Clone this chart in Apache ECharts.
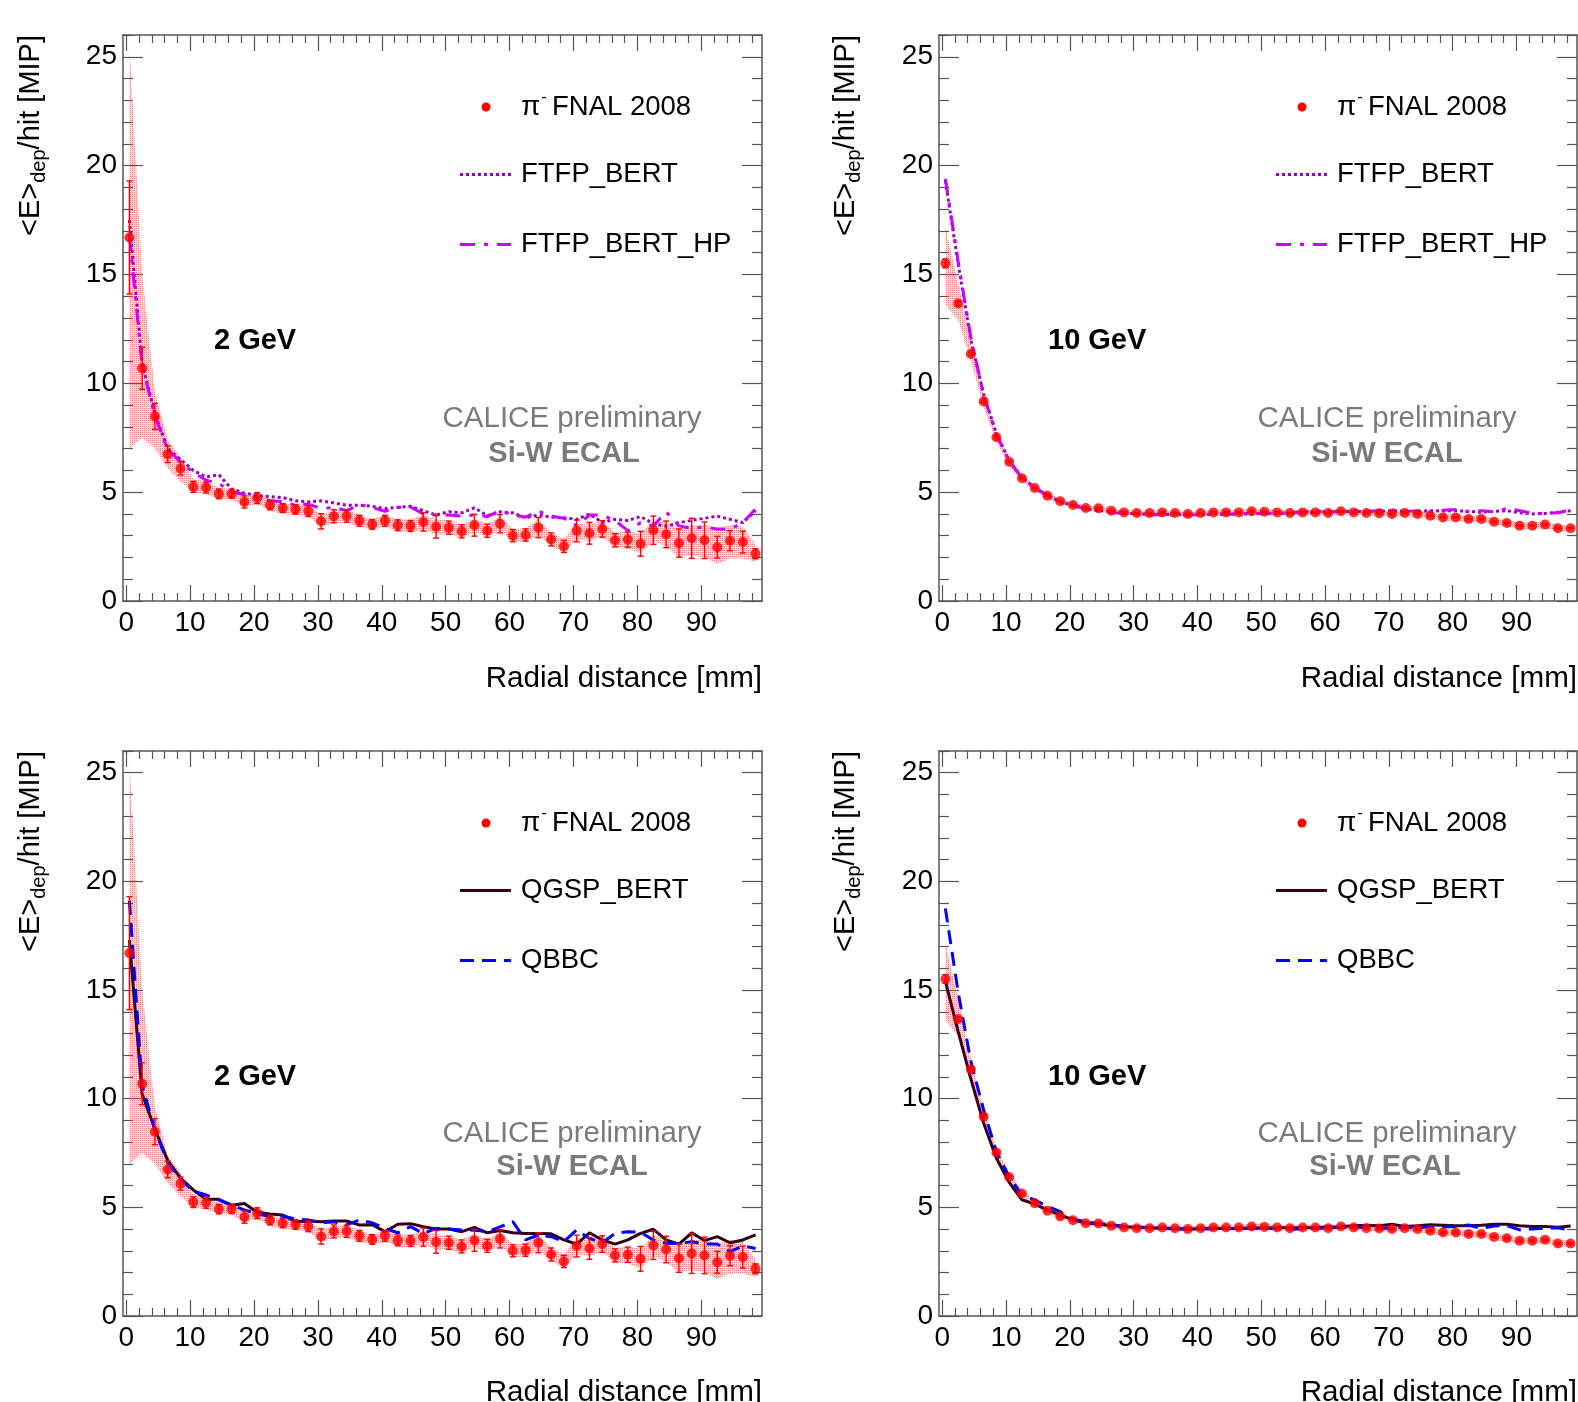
<!DOCTYPE html>
<html><head><meta charset="utf-8">
<script src="https://cdn.jsdelivr.net/npm/echarts@6/dist/echarts.min.js"></script>
<style>html,body{margin:0;padding:0;background:#fff}#c{width:1578px;height:1402px}</style>
</head><body><div id="c"></div>
<script>
// ---------- data ----------
const radius = [0.5,2.5,4.5,6.5,8.5,10.5,12.5,14.5,16.5,18.5,20.5,22.5,24.5,26.5,28.5,30.5,32.5,34.5,36.5,38.5,40.5,42.5,44.5,46.5,48.5,50.5,52.5,54.5,56.5,58.5,60.5,62.5,64.5,66.5,68.5,70.5,72.5,74.5,76.5,78.5,80.5,82.5,84.5,86.5,88.5,90.5,92.5,94.5,96.5,98.5];

const data2 = [16.7,10.69,8.48,6.74,6.09,5.24,5.21,4.92,4.93,4.55,4.73,4.41,4.27,4.21,4.13,3.66,3.89,3.90,3.69,3.52,3.69,3.48,3.45,3.63,3.41,3.37,3.20,3.48,3.23,3.55,3.00,3.03,3.37,2.83,2.51,3.22,3.11,3.31,2.79,2.82,2.63,3.25,3.06,2.66,2.88,2.79,2.47,2.77,2.71,2.17];
const err2 = [2.6,0.97,0.6,0.38,0.3,0.25,0.25,0.22,0.2,0.28,0.25,0.22,0.2,0.22,0.25,0.35,0.3,0.28,0.25,0.22,0.25,0.25,0.25,0.42,0.52,0.3,0.3,0.5,0.3,0.42,0.28,0.28,0.46,0.3,0.28,0.5,0.5,0.38,0.3,0.35,0.57,0.65,0.61,0.65,0.92,0.84,0.5,0.46,0.5,0.23];
const band2Lo = [7.0,7.5,7.0,6.1,5.5,5.0,4.9,4.7,4.65,4.35,4.45,4.15,4.0,3.95,3.9,3.4,3.6,3.6,3.4,3.3,3.4,3.2,3.15,3.3,3.05,3.05,2.9,3.15,2.95,3.25,2.7,2.75,3.0,2.55,2.2,2.85,2.75,2.95,2.45,2.4,2.2,2.75,2.5,2.0,2.1,2.0,1.7,1.95,1.95,1.8];
const band2Hi = [25.5,15.0,9.6,7.4,6.6,5.6,5.5,5.2,5.15,4.8,5.0,4.65,4.5,4.45,4.4,3.95,4.15,4.2,3.95,3.75,3.95,3.75,3.75,3.95,3.75,3.7,3.5,3.8,3.5,3.9,3.3,3.35,3.75,3.15,2.85,3.6,3.5,3.7,3.15,3.2,3.1,3.7,3.6,3.3,3.5,3.5,3.3,3.5,3.4,2.6];

const ftfp2 = [17.5,10.9,8.6,7.0,6.5,6.0,5.7,5.8,5.15,4.95,4.85,4.8,4.75,4.6,4.55,4.6,4.5,4.4,4.4,4.35,4.25,4.3,4.35,4.15,3.95,4.1,4.05,4.28,3.92,4.1,4.05,3.83,3.95,3.85,3.82,3.75,4.0,3.6,3.75,3.7,3.88,3.55,3.43,3.6,3.7,3.8,3.9,3.75,3.6,4.15];
const ftfpHp2 = [16.8,10.8,8.5,6.95,6.4,5.9,5.55,5.4,5.0,4.9,4.7,4.62,4.55,4.4,4.45,4.25,4.3,4.15,4.42,4.3,4.12,4.3,4.32,4.0,3.95,3.95,3.9,3.95,3.88,4.15,3.95,3.85,4.13,3.9,3.8,3.46,3.95,3.95,3.7,3.23,3.6,3.45,4.1,3.45,3.34,3.4,3.31,3.3,3.6,4.23];
const qgsp2 = [17.3,10.2,8.6,7.15,6.35,5.8,5.37,5.37,5.1,5.18,4.77,4.69,4.65,4.34,4.37,4.34,4.37,4.37,4.19,4.2,3.88,4.22,4.25,4.11,4.0,4.0,3.88,4.08,3.83,3.93,3.83,3.8,3.8,3.78,3.5,3.31,3.83,3.5,3.31,3.5,3.8,3.99,3.5,3.31,3.83,3.47,3.65,3.37,3.5,3.73];
const qbbc2 = [19.1,10.6,8.55,7.05,6.3,5.75,5.57,5.34,5.1,4.88,4.72,4.57,4.6,4.46,4.42,4.29,4.33,4.19,4.42,4.29,4.03,3.83,4.11,3.8,4.03,4.0,3.96,3.95,3.88,4.1,4.34,3.5,3.73,3.65,3.42,3.96,3.57,3.37,3.8,3.88,3.85,3.5,3.34,3.34,3.42,3.31,3.31,2.96,3.22,3.11];

const data10 = [15.51,13.67,11.35,9.17,7.52,6.40,5.64,5.19,4.84,4.58,4.41,4.27,4.26,4.15,4.07,4.04,4.04,4.07,4.04,4.0,4.04,4.07,4.07,4.07,4.12,4.1,4.07,4.04,4.07,4.07,4.04,4.12,4.07,4.04,4.03,4.0,4.04,4.0,3.92,3.84,3.84,3.77,3.77,3.64,3.58,3.46,3.46,3.51,3.34,3.34];
const err10 = [0.2,0.1,0.08,0.06,0.05,0.04,0.04,0.03,0.03,0.03,0.03,0.03,0.03,0.03,0.03,0.03,0.03,0.03,0.03,0.03,0.03,0.03,0.03,0.03,0.03,0.03,0.03,0.03,0.03,0.03,0.03,0.03,0.03,0.03,0.03,0.03,0.03,0.03,0.03,0.03,0.03,0.03,0.03,0.03,0.03,0.03,0.03,0.03,0.03,0.03];
const band10Lo = [13.6,12.9,11.0,8.9,7.3,6.2,5.5,5.07,4.72,4.47,4.3,4.16,4.15,4.04,3.96,3.93,3.93,3.96,3.93,3.89,3.93,3.96,3.96,3.96,4.0,3.98,3.95,3.92,3.95,3.95,3.92,4.0,3.95,3.92,3.91,3.88,3.91,3.86,3.77,3.69,3.69,3.62,3.62,3.49,3.43,3.31,3.31,3.36,3.19,3.19];
const band10Hi = [17.2,14.6,11.9,9.5,7.75,6.6,5.8,5.32,4.97,4.7,4.53,4.38,4.37,4.26,4.18,4.15,4.15,4.18,4.15,4.11,4.15,4.18,4.18,4.18,4.24,4.22,4.19,4.16,4.19,4.19,4.16,4.24,4.19,4.16,4.15,4.12,4.17,4.14,4.07,3.99,3.99,3.92,3.92,3.79,3.73,3.61,3.61,3.66,3.49,3.49];

const ftfp10 = [19.3,15.5,12.0,9.5,7.7,6.45,5.68,5.2,4.86,4.56,4.4,4.25,4.15,4.1,4.04,4.0,3.98,3.97,3.97,3.96,3.97,3.98,3.98,4.0,4.0,4.02,4.03,4.03,4.05,4.08,4.1,4.1,4.12,4.1,4.12,4.15,4.12,4.12,4.15,4.13,4.15,4.12,4.08,4.12,4.15,4.05,4.0,4.02,4.08,4.15];
const ftfpHp10 = [19.4,15.6,12.1,9.45,7.65,6.42,5.66,5.2,4.85,4.56,4.38,4.24,4.14,4.07,4.02,3.98,3.96,3.96,3.95,3.95,3.96,3.98,3.98,4.0,4.02,4.02,4.03,4.05,4.1,4.13,4.1,4.12,4.15,4.12,4.15,4.18,4.14,4.12,4.1,4.17,4.2,4.1,4.15,4.1,4.25,4.15,4.02,4.03,4.05,4.18];
const qgsp10 = [15.4,13.1,10.9,8.87,7.26,6.15,5.35,5.15,4.88,4.65,4.42,4.29,4.22,4.17,4.11,4.08,4.06,4.03,4.02,4.0,4.02,4.03,4.03,4.03,4.04,4.05,4.06,4.06,4.06,4.07,4.1,4.11,4.15,4.18,4.15,4.22,4.12,4.15,4.2,4.18,4.15,4.15,4.18,4.22,4.22,4.15,4.12,4.12,4.08,4.14];
const qbbc10 = [18.75,14.9,11.7,9.48,7.56,6.4,5.57,5.34,5.05,4.8,4.46,4.34,4.26,4.2,4.13,4.1,4.07,4.05,4.02,4.0,4.0,4.02,4.02,4.03,4.04,4.04,4.02,3.99,4.01,4.03,4.06,4.08,4.1,4.06,4.03,4.05,4.08,4.05,4.12,4.1,4.12,4.19,4.03,4.14,4.16,3.96,4.0,4.04,4.06,3.96];

const xMajorTicks = [0,10,20,30,40,50,60,70,80,90];
const xMinorTicks = [2,4,6,8,12,14,16,18,22,24,26,28,32,34,36,38,42,44,46,48,52,54,56,58,62,64,66,68,72,74,76,78,82,84,86,88,92,94,96,98];
const yMajorTicks = [0,5,10,15,20,25];
const yMinorTicks = [1,2,3,4,6,7,8,9,11,12,13,14,16,17,18,19,21,22,23,24,26];

// ---------- layout ----------
const FONT = '"Liberation Sans", Arial, Helvetica, sans-serif';
const grids = [
  {left:123, top:35, width:639, height:566},
  {left:939, top:35, width:638, height:566},
  {left:123, top:751, width:639, height:565},
  {left:939, top:751, width:638, height:565}
];
const FRAME = '#555555';

const xAxes = [], yAxes = [];
grids.forEach((g, gi) => {
  const baseX = {gridIndex:gi, type:'value', min:-0.5, max:99.5, splitLine:{show:false}};
  xAxes.push(Object.assign({}, baseX, {position:'bottom',
    axisLine:{show:true, onZero:false, lineStyle:{color:FRAME, width:1.5}},
    axisTick:{show:true, inside:true, length:16, customValues:xMajorTicks, lineStyle:{color:FRAME, width:1.2}},
    axisLabel:{show:true, customValues:xMajorTicks, color:'#000', fontSize:28, fontFamily:FONT, margin:8}}));
  xAxes.push(Object.assign({}, baseX, {position:'bottom',
    axisLine:{show:false, onZero:false},
    axisTick:{show:true, inside:true, length:8, customValues:xMinorTicks, lineStyle:{color:FRAME, width:1.2}},
    axisLabel:{show:false}}));
  xAxes.push(Object.assign({}, baseX, {position:'top',
    axisLine:{show:true, onZero:false, lineStyle:{color:FRAME, width:1.5}},
    axisTick:{show:true, inside:true, length:16, customValues:xMajorTicks, lineStyle:{color:FRAME, width:1.2}},
    axisLabel:{show:false}}));
  xAxes.push(Object.assign({}, baseX, {position:'top',
    axisLine:{show:false, onZero:false},
    axisTick:{show:true, inside:true, length:8, customValues:xMinorTicks, lineStyle:{color:FRAME, width:1.2}},
    axisLabel:{show:false}}));

  const baseY = {gridIndex:gi, type:'value', min:0, max:26, splitLine:{show:false}};
  yAxes.push(Object.assign({}, baseY, {position:'left',
    axisLine:{show:true, onZero:false, lineStyle:{color:FRAME, width:1.5}},
    axisTick:{show:true, inside:true, length:20, customValues:yMajorTicks, lineStyle:{color:FRAME, width:1.2}},
    axisLabel:{show:true, customValues:yMajorTicks, color:'#000', fontSize:28, fontFamily:FONT, margin:6}}));
  yAxes.push(Object.assign({}, baseY, {position:'left',
    axisLine:{show:false, onZero:false},
    axisTick:{show:true, inside:true, length:10, customValues:yMinorTicks, lineStyle:{color:FRAME, width:1.2}},
    axisLabel:{show:false}}));
  yAxes.push(Object.assign({}, baseY, {position:'right',
    axisLine:{show:true, onZero:false, lineStyle:{color:FRAME, width:1.5}},
    axisTick:{show:true, inside:true, length:20, customValues:yMajorTicks, lineStyle:{color:FRAME, width:1.2}},
    axisLabel:{show:false}}));
  yAxes.push(Object.assign({}, baseY, {position:'right',
    axisLine:{show:false, onZero:false},
    axisTick:{show:true, inside:true, length:10, customValues:yMinorTicks, lineStyle:{color:FRAME, width:1.2}},
    axisLabel:{show:false}}));
});

// hatch-like pattern for the band
const pc = document.createElement('canvas');
pc.width = 2; pc.height = 2;
const pctx = pc.getContext('2d');
pctx.fillStyle = 'rgba(255,40,40,0.2)'; pctx.fillRect(0,0,2,2);
pctx.fillStyle = 'rgba(255,40,40,0.5)'; pctx.fillRect(0,0,1,1);
const bandFill = {image: pc, repeat: 'repeat'};

const LINE_STYLES = {
  ftfp:  {color:'#9900bb', width:3, type:[3,3]},
  ftfpHp:{color:'#cc00ff', width:3, type:[15,9,4,9]},
  qgsp:  {color:'#33001a', width:3, type:'solid'},
  qbbc:  {color:'#0000ff', width:3, type:[14,8]}
};

function bandSeries(gi, lo, hi) {
  return {
    type:'custom', xAxisIndex:gi*4, yAxisIndex:gi*4, z:1, clip:true, silent:true,
    data: radius.map((x,i)=>[x, lo[i], hi[i]]),
    encode:{x:0, y:[1,2]},
    renderItem:(params, api) => {
      if (params.dataIndex !== 0) return null;
      const pts = [];
      for (let i = 0; i < radius.length; i++) pts.push(api.coord([radius[i], hi[i]]));
      for (let i = radius.length - 1; i >= 0; i--) pts.push(api.coord([radius[i], lo[i]]));
      return {type:'polygon', shape:{points:pts}, style:{fill:bandFill, stroke:null}};
    }
  };
}
function lineSeries(gi, vals, st) {
  return {
    type:'line', xAxisIndex:gi*4, yAxisIndex:gi*4, z:3, showSymbol:false, symbol:'none',
    data: radius.map((x,i)=>[x, vals[i]]),
    lineStyle:{color:st.color, width:st.width, type:st.type, cap:'butt'},
    clip:true, silent:true
  };
}
function errSeries(gi, vals, errs) {
  return {
    type:'custom', xAxisIndex:gi*4, yAxisIndex:gi*4, z:4, clip:true, silent:true,
    data: radius.map((x,i)=>[x, vals[i], errs[i]]),
    encode:{x:0, y:1},
    renderItem:(params, api) => {
      const x = api.value(0), y = api.value(1), e = api.value(2);
      const p0 = api.coord([x, y - e]), p1 = api.coord([x, y + e]);
      const c = 3, s = {stroke:'#ff0000', lineWidth:1.4};
      return {type:'group', children:[
        {type:'line', shape:{x1:p0[0], y1:p0[1], x2:p1[0], y2:p1[1]}, style:s},
        {type:'line', shape:{x1:p0[0]-c, y1:p0[1], x2:p0[0]+c, y2:p0[1]}, style:s},
        {type:'line', shape:{x1:p1[0]-c, y1:p1[1], x2:p1[0]+c, y2:p1[1]}, style:s}
      ]};
    }
  };
}
function pointSeries(gi, vals) {
  return {
    type:'scatter', xAxisIndex:gi*4, yAxisIndex:gi*4, z:5, symbol:'circle', symbolSize:10,
    itemStyle:{color:'#ff0000'}, data: radius.map((x,i)=>[x, vals[i]]), silent:true
  };
}

const series = [
  bandSeries(0, band2Lo, band2Hi), lineSeries(0, ftfp2, LINE_STYLES.ftfp), lineSeries(0, ftfpHp2, LINE_STYLES.ftfpHp), errSeries(0, data2, err2), pointSeries(0, data2),
  bandSeries(1, band10Lo, band10Hi), lineSeries(1, ftfp10, LINE_STYLES.ftfp), lineSeries(1, ftfpHp10, LINE_STYLES.ftfpHp), errSeries(1, data10, err10), pointSeries(1, data10),
  bandSeries(2, band2Lo, band2Hi), lineSeries(2, qgsp2, LINE_STYLES.qgsp), lineSeries(2, qbbc2, LINE_STYLES.qbbc), errSeries(2, data2, err2), pointSeries(2, data2),
  bandSeries(3, band10Lo, band10Hi), lineSeries(3, qgsp10, LINE_STYLES.qgsp), lineSeries(3, qbbc10, LINE_STYLES.qbbc), errSeries(3, data10, err10), pointSeries(3, data10)
];

// ---------- text / legend graphics ----------
const mctx = document.createElement('canvas').getContext('2d');
function measure(txt, size, weight) { mctx.font = (weight||'normal') + ' ' + size + 'px ' + FONT; return mctx.measureText(txt).width; }

const graphics = [];
function txt(x, y, text, opt) {
  opt = opt || {};
  graphics.push({type:'text', x:x, y:y, z:100, silent:true, style:{
    text:text, fill:opt.color||'#000', fontSize:opt.size||28, fontFamily:FONT,
    fontWeight:opt.weight||'normal', textAlign:opt.align||'left', textVerticalAlign:'middle', verticalAlign:'middle'}});
}
function yTitle(x, yTop) {
  const s1 = '<E>', s2 = 'dep', s3 = '/hit [MIP]';
  const w1 = measure(s1, 29), w2 = measure(s2, 20), w3 = measure(s3, 29);
  const W = w1 + w2 + w3;
  const base = {fontFamily:FONT, fill:'#000', textVerticalAlign:'middle', verticalAlign:'middle', textAlign:'left', align:'left'};
  graphics.push({type:'group', x:x, y:yTop + W, rotation:Math.PI/2, z:100, silent:true, children:[
    {type:'text', x:0, y:0, style:Object.assign({text:s1, fontSize:29}, base)},
    {type:'text', x:w1, y:8, style:Object.assign({text:s2, fontSize:20}, base)},
    {type:'text', x:w1 + w2, y:0, style:Object.assign({text:s3, fontSize:29}, base)}
  ]});
}
function legend(gi, labels, styles) {
  const g = grids[gi];
  const rows = [g.top + 72, g.top + 139.5, g.top + 209.5];
  const piW = measure('π', 28);
  graphics.push({type:'circle', z:100, silent:true, shape:{cx:g.left + 363, cy:rows[0], r:4.5}, style:{fill:'#ff0000'}});
  txt(g.left + 398, rows[0], 'π');
  txt(g.left + 398 + piW + 1, rows[0] - 10, '-', {size:17});
  txt(g.left + 429, rows[0], 'FNAL 2008', {size:27.5});
  for (let k = 0; k < 2; k++) {
    const st = styles[k];
    graphics.push({type:'line', z:100, silent:true,
      shape:{x1:g.left + 337, y1:rows[k+1], x2:g.left + 388, y2:rows[k+1]},
      style:{stroke:st.color, lineWidth:st.width, lineDash:(st.type === 'solid' ? null : st.type), lineCap:'butt'}});
    txt(g.left + 398, rows[k+1], labels[k], {size:27.5});
  }
}
legend(0, ['FTFP_BERT','FTFP_BERT_HP'], [LINE_STYLES.ftfp, LINE_STYLES.ftfpHp]);
legend(1, ['FTFP_BERT','FTFP_BERT_HP'], [LINE_STYLES.ftfp, LINE_STYLES.ftfpHp]);
legend(2, ['QGSP_BERT','QBBC'], [LINE_STYLES.qgsp, LINE_STYLES.qbbc]);
legend(3, ['QGSP_BERT','QBBC'], [LINE_STYLES.qgsp, LINE_STYLES.qbbc]);

// energy labels
txt(214, 341, '2 GeV', {weight:'bold', size:29});
txt(1048, 341, '10 GeV', {weight:'bold', size:29});
txt(214, 1077, '2 GeV', {weight:'bold', size:29});
txt(1048, 1077, '10 GeV', {weight:'bold', size:29});
// CALICE labels
const GRAY = '#7a7a7a';
txt(572, 419, 'CALICE preliminary', {color:GRAY, size:29.5, align:'center'});
txt(564, 454, 'Si-W ECAL', {color:GRAY, size:29, weight:'bold', align:'center'});
txt(1387, 419, 'CALICE preliminary', {color:GRAY, size:29.5, align:'center'});
txt(1387, 454, 'Si-W ECAL', {color:GRAY, size:29, weight:'bold', align:'center'});
txt(572, 1134, 'CALICE preliminary', {color:GRAY, size:29.5, align:'center'});
txt(572, 1167, 'Si-W ECAL', {color:GRAY, size:29, weight:'bold', align:'center'});
txt(1387, 1134, 'CALICE preliminary', {color:GRAY, size:29.5, align:'center'});
txt(1385, 1167, 'Si-W ECAL', {color:GRAY, size:29, weight:'bold', align:'center'});
// axis titles
txt(762, 679, 'Radial distance [mm]', {size:29.6, align:'right'});
txt(1577, 679, 'Radial distance [mm]', {size:29.6, align:'right'});
txt(762, 1393, 'Radial distance [mm]', {size:29.6, align:'right'});
txt(1577, 1393, 'Radial distance [mm]', {size:29.6, align:'right'});
yTitle(31, 35);
yTitle(846, 35);
yTitle(31, 751);
yTitle(846, 751);

const chart = echarts.init(document.getElementById('c'), null, {renderer:'canvas'});
chart.setOption({
  backgroundColor:'#ffffff',
  animation:false,
  grid: grids,
  xAxis: xAxes,
  yAxis: yAxes,
  series: series,
  graphic: {elements: graphics}
});
</script>
</body></html>
